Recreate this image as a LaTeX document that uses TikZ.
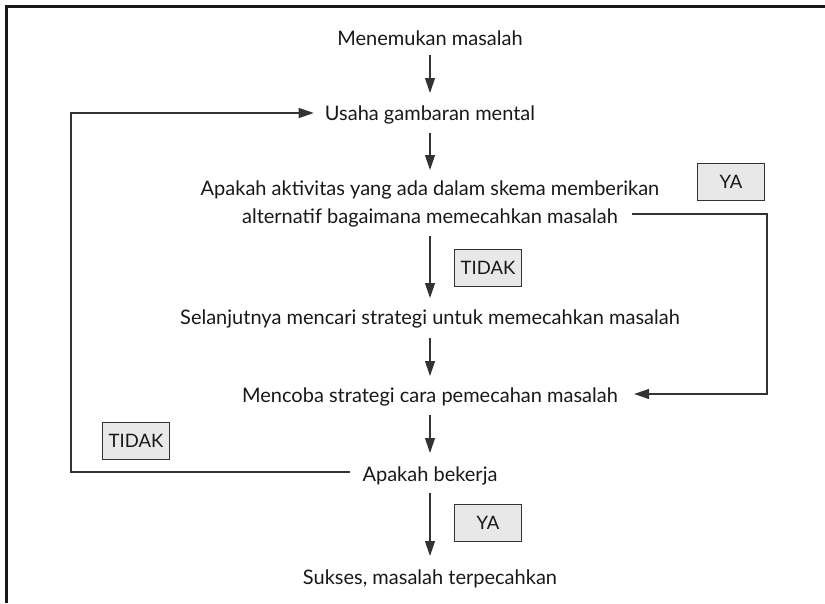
\documentclass[tikz,border=0pt]{standalone}
\usepackage{fontspec}
\setmainfont{Lato}
\usetikzlibrary{arrows.meta}
\definecolor{ink}{HTML}{1A1718}
\definecolor{linec}{HTML}{333333}
\definecolor{boxfill}{HTML}{E8E8E8}
\begin{document}
\begin{tikzpicture}[x=1pt,y=1pt,
  lbl/.style={font=\fontsize{20}{24}\selectfont, text=ink, inner sep=0pt, text height=15pt, text depth=4pt},
  tag/.style={draw=linec, fill=boxfill, line width=1.1pt, minimum width=67pt, minimum height=37pt, inner sep=0pt, font=\fontsize{18.5}{22}\selectfont, text=ink},
  arr/.style={draw=linec, line width=1.2pt, -{Triangle[length=15pt,width=10pt]}},
  frame/.style={draw=ink, line width=3pt}]
\useasboundingbox (0,0) rectangle (825,-603);
\draw[frame] (6.5,-603) -- (6.5,-6.5) -- (825,-6.5);

\node[lbl] (n1) at (430,-40) {Menemukan masalah};
\node[lbl] (n2) at (430,-115) {Usaha gambaran mental};
\node[lbl] (n3a) at (430,-190) {Apakah aktivitas yang ada dalam skema memberikan};
\node[lbl] (n3b) at (430,-218) {alternatif bagaimana memecahkan masalah};
\node[lbl] (n4) at (430,-319) {Selanjutnya mencari strategi untuk memecahkan masalah};
\node[lbl] (n5) at (430,-397) {Mencoba strategi cara pemecahan masalah};
\node[lbl] (n6) at (430,-476) {Apakah bekerja};
\node[lbl] (n7) at (430,-579) {Sukses, masalah terpecahkan};

\node[tag] (ya1) at (731,-182) {YA};
\node[tag] (t1) at (488,-268) {TIDAK};
\node[tag] (t2) at (136,-441) {TIDAK};
\node[tag] (ya2) at (488,-523) {YA};

\draw[arr] ([yshift=-15pt]n1.center) -- ([yshift=22pt]n2.center);
\draw[arr] ([yshift=-18pt]n2.center) -- ([yshift=20pt]n3a.center);
\draw[arr] ([yshift=-18pt]n3b.center) -- ([yshift=21pt]n4.center);
\draw[arr] ([yshift=-19pt]n4.center) -- ([yshift=21pt]n5.center);
\draw[arr] ([yshift=-18pt]n5.center) -- ([yshift=23pt]n6.center);
\draw[arr] ([yshift=-17pt]n6.center) -- ([yshift=23pt]n7.center);

\draw[arr] ([xshift=-12pt,yshift=4pt]n6.west) -| (71,-113) -- ([xshift=-11pt,yshift=2pt]n2.west);
\draw[arr] ([xshift=14pt,yshift=4pt]n3b.east) -| (767,-394) -- ([xshift=16pt,yshift=3pt]n5.east);
\end{tikzpicture}
\end{document}
